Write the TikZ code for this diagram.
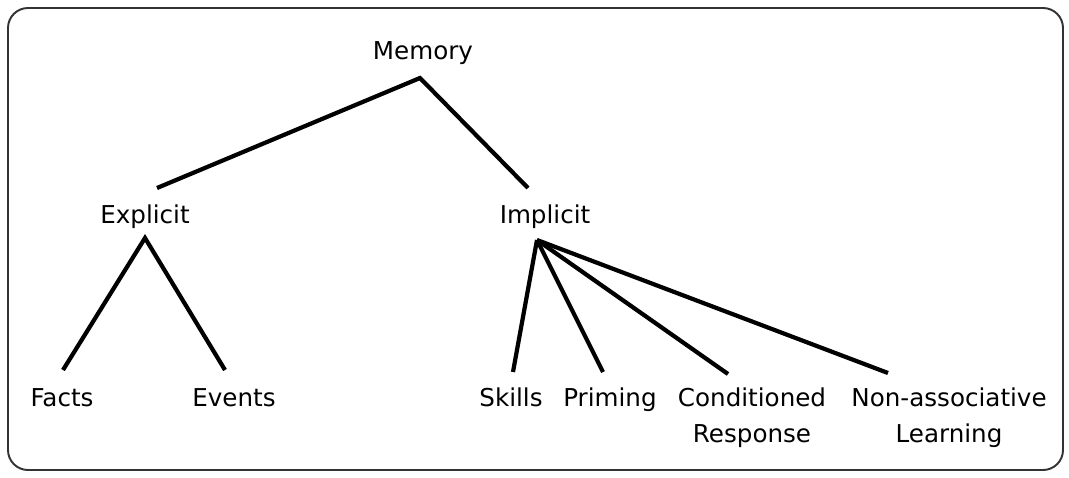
\documentclass[tikz,border=0pt]{standalone}
\usepackage{fontspec}
\setmainfont{DejaVu Sans}
\usepackage{tikz}

\begin{document}
\begin{tikzpicture}[
    x=0.02cm, y=-0.02cm,
    label/.style={anchor=base, inner sep=0pt, align=center,
                  font=\fontsize{14pt}{20.4pt}\selectfont},
    branch/.style={line width=2.4pt},
    frame/.style={draw=black!80, line width=1.1pt, rounded corners=0.4cm},
]
\useasboundingbox (0,0) rectangle (1069,477);

% --- outer frame ---
\draw[frame] (8,8) rectangle (1063,470);

% --- levels of the tree ---
\node[label] (memory)   at (423,59)  {Memory};
\node[label] (explicit) at (145,223) {Explicit};
\node[label] (implicit) at (545,223) {Implicit};

\node[label] (facts)   at (62,406)  {Facts};
\node[label] (events)  at (234,406) {Events};
\node[label] (skills)  at (511,406) {Skills};
\node[label] (priming) at (610,406) {Priming};
\node[label] (cond)    at (752,442) {Conditioned\\Response};
\node[label] (nonassoc) at (949,442) {Non-associative\\Learning};

% --- memory splits in two ---
\draw[branch] ([shift={(12,-35)}]explicit.base) -- ([shift={(-3,19)}]memory.base)
              -- ([shift={(-17,-35)}]implicit.base);

% --- explicit branch ---
\draw[branch] ([shift={(1,-36)}]facts.base) -- ([shift={(0,15)}]explicit.base)
              -- ([shift={(-9,-36)}]events.base);

% --- implicit fan ---
\foreach \leaf/\dx/\dy in {skills/2/-34, priming/-7/-34, cond/-24/-68, nonassoc/-61/-69}
  \draw[branch] ([shift={(-8,17)}]implicit.base) -- ([shift={(\dx,\dy)}]\leaf.base);

\end{tikzpicture}
\end{document}
